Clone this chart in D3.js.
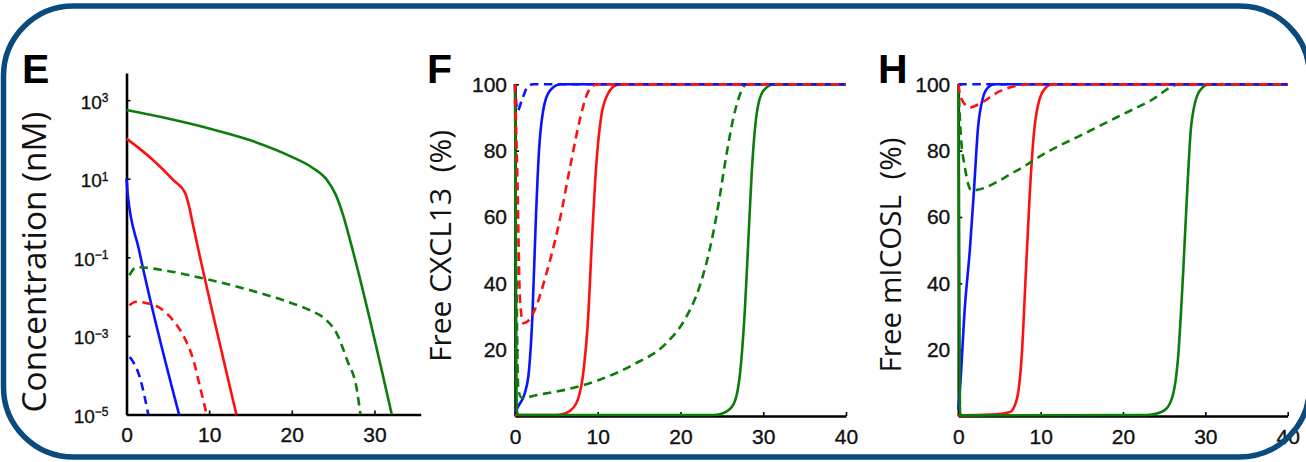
<!DOCTYPE html>
<html>
<head>
<meta charset="utf-8">
<script src="https://cdn.jsdelivr.net/npm/d3@7"></script>
<style>
  body { margin: 0; background: #fff; }
  svg { display: block; }
</style>
</head>
<body>
<div id="chart"></div>
<script>
// values, time in days

var timeTicks = [0, 10, 20, 30, 40];
var concTicks = [1e3, 1e1, 1e-1, 1e-3, 1e-5];
var pctTicks = [20, 40, 60, 80, 100];

// panel E: concentration (nM)
var eBlueSolid = [[0, 10], [0.15, 4], [1.5, 0.16], [6.36, 1e-5]];
var eBlueDashed = [[0.4, 2.9e-4], [1.6, 9e-5], [2.64, 1e-5]];
var eRedSolid = [[0, 105], [1.5, 60], [3.2, 30], [5.7, 9.1], [7.1, 4.3], [7.5, 2.3], [8.1, 0.59],
  [13.3, 1e-5]];
var eRedDashed = [[0.35, 0.006], [1.15, 0.0074], [2.5, 0.0068], [3.6, 0.0058], [5.7, 0.0024],
  [6.9, 0.001], [8.1, 2.4e-4], [8.9, 5e-5], [9.7, 1e-5]];
var eGreenSolid = [[0, 560], [5, 340], [10, 190], [15, 95], [20, 36], [22.5, 19], [24.3, 9],
  [25.3, 4], [26.2, 1.2], [27, 0.3], [32.1, 1e-5]];
var eGreenDashed = [[0.35, 0.035], [1.2, 0.056], [5, 0.045], [9.3, 0.029], [15, 0.0145], [20, 0.0068],
  [22.2, 0.0045], [24.2, 0.0025], [25.4, 0.0012], [26.7, 2.4e-4], [27.9, 4e-5], [28.3, 1e-5]];

// panel F: free CXCL13 (%)
var fBlueSolid = [[0, 1], [0.4, 3], [1.2, 7], [1.7, 14], [2.1, 30], [2.5, 58], [2.9, 80], [3.4, 92],
  [4.2, 98], [5.5, 100], [40, 100]];
var fBlueDashed = [[0, 100], [0.3, 92], [0.8, 95], [1.6, 99.5], [2.2, 100], [40, 100]];
var fRedSolid = [[0, 0.3], [5, 0.3], [6.6, 1.5], [7.6, 5], [8.3, 14], [8.8, 28], [9.3, 53], [9.8, 75],
  [10.4, 90], [11.2, 97], [12.3, 99.8], [13, 100], [40, 100]];
var fRedDashed = [[0, 100], [0.3, 70], [0.6, 35], [1.0, 28], [1.5, 28.5], [2.2, 31], [3.8, 43], [5.4, 59],
  [6.65, 75], [7.9, 90], [8.7, 97], [9.4, 99.5], [10, 100], [40, 100]];
var fGreenSolid = [[0, 100], [0.1, 50], [0.2, 2], [0.4, 0.3], [24, 0.3], [25.3, 1], [26.4, 3.5], [27.2, 13],
  [27.8, 33], [28.2, 53], [28.6, 73], [29.2, 91], [30, 98], [31.3, 100], [40, 100]];
var fGreenDashed = [[0, 100], [0.15, 50], [0.4, 8], [0.8, 5.5], [3, 6.5], [6.25, 8], [10.3, 11], [14.3, 15.5],
  [18.3, 22], [20.5, 29], [22.3, 39], [23.6, 51], [24.6, 64], [25.5, 78], [26.4, 90], [27.2, 97], [28, 100],
  [40, 100]];

// panel H: free mICOSL (%)
var hBlueSolid = [[0, 2], [0.2, 8], [0.8, 33], [1.4, 50], [1.9, 68], [2.4, 87], [3.0, 96], [3.6, 99],
  [4.4, 100], [40, 100]];
var hBlueDashed = [[0, 100], [40, 100]];
var hRedSolid = [[0, 0.2], [4, 0.4], [6.3, 1.2], [7.1, 5], [7.7, 18], [8.2, 43], [8.7, 68], [9.3, 88],
  [10.3, 98], [11.4, 100], [40, 100]];
var hRedDashed = [[0, 100], [0.3, 96], [1.4, 93], [2.5, 94], [5.1, 98], [7, 99.5], [8.7, 100], [40, 100]];
var hGreenSolid = [[0, 100], [0.1, 50], [0.2, 1], [0.4, 0.2], [23, 0.3], [24.9, 1.5], [25.9, 5], [26.7, 18],
  [27.3, 43], [27.8, 68], [28.3, 88], [29.3, 98], [30.5, 100], [40, 100]];
var hGreenDashed = [[0, 100], [0.3, 85], [0.8, 75], [1.6, 68], [7.1, 74], [11.1, 80], [15.2, 85], [19.2, 90],
  [23.3, 95], [26.9, 100], [40, 100]];

var blue = "#0a14ff", red = "#ff1010", green = "#0a7d0a";

var svgWidth = 1306;
var svgHeight = 462;

var svg = d3.select("#chart")
  .append("svg")
  .attr("width", svgWidth)
  .attr("height", svgHeight);

var tickFont = "'Liberation Sans', Arial, sans-serif";

// panel layout
var panels = [
  { letter: "E", letterX: 22, label: "Concentration (nM)", labelX: 46, labelY: 262, labelLen: 301,
    left: 126.5, right: 420.7, top: 73, bottom: 414.5, xMax: 35.6, xTicks: timeTicks.slice(0, 4), log: true,
    series: [[eBlueSolid, blue, false], [eRedSolid, red, false], [eGreenSolid, green, false],
             [eGreenDashed, green, true], [eBlueDashed, blue, true], [eRedDashed, red, true]] },
  { letter: "F", letterX: 427, label: "Free CXCL13  (%)", labelX: 451, labelY: 246, labelLen: 232,
    left: 515, right: 846, top: 84.3, bottom: 416, xMax: 40, xTicks: timeTicks, log: false,
    series: [[fBlueSolid, blue, false], [fRedSolid, red, false], [fGreenSolid, green, false],
             [fGreenDashed, green, true], [fBlueDashed, blue, true], [fRedDashed, red, true]] },
  { letter: "H", letterX: 878, label: "Free mICOSL  (%)", labelX: 901, labelY: 255, labelLen: 235,
    left: 958.3, right: 1287.7, top: 84.3, bottom: 416, xMax: 40, xTicks: timeTicks, log: false,
    series: [[hBlueSolid, blue, false], [hRedSolid, red, false], [hGreenSolid, green, false],
             [hGreenDashed, green, true], [hBlueDashed, blue, true], [hRedDashed, red, true]] }
];

panels.forEach(function(p) {
  var g = svg.append("g");

  var xScale = d3.scaleLinear()
    .domain([0, p.xMax])
    .range([p.left, p.right]);

  var yScale = p.log
    ? d3.scaleLog().domain([1e-5, 4900]).range([p.bottom, p.top])
    : d3.scaleLinear().domain([0, 100]).range([p.bottom, p.top]);

  // axes
  var bottomAxis = d3.axisBottom(xScale)
    .tickValues(p.xTicks)
    .tickSizeInner(-4)
    .tickSizeOuter(0)
    .tickPadding(13)
    .tickFormat(d3.format("d"));

  var leftAxis = d3.axisLeft(yScale)
    .tickValues(p.log ? concTicks : pctTicks)
    .tickSizeInner(-4)
    .tickSizeOuter(0)
    .tickPadding(p.log ? 18 : 8);

  var xg = g.append("g")
    .attr("transform", `translate(0, ${p.bottom})`)
    .call(bottomAxis);

  var yg = g.append("g")
    .attr("transform", `translate(${p.left}, 0)`)
    .call(leftAxis);

  [xg, yg].forEach(function(a) {
    a.attr("font-family", tickFont).attr("font-size", 21);
    a.select(".domain").attr("stroke-width", 2.6);
    a.selectAll(".tick line").attr("stroke-width", 1.6);
    a.selectAll(".tick text")
      .attr("fill", "#111")
      .attr("stroke", "#111")
      .attr("stroke-width", 0.35);
  });

  if (p.log) {
    // 10 with superscript exponent
    yg.selectAll(".tick text")
      .attr("dy", "0.42em")
      .attr("font-size", 19)
      .text(null)
      .each(function(d) {
        var e = Math.round(Math.log10(d));
        var t = d3.select(this);
        t.append("tspan").text("10");
        t.append("tspan")
          .attr("dy", "-0.55em")
          .attr("font-size", 12)
          .text(e < 0 ? "\u2212" + Math.abs(e) : String(e));
      });
  }

  // curves
  var line = d3.line()
    .x(d => xScale(d[0]))
    .y(d => yScale(d[1]))
    .curve(d3.curveMonotoneX);

  p.series.forEach(function(s) {
    g.append("path")
      .datum(s[0])
      .attr("d", line)
      .attr("fill", "none")
      .attr("stroke", s[1])
      .attr("stroke-width", 2.6)
      .attr("stroke-dasharray", s[2] ? "8.5,5.5" : null);
  });

  // panel letter
  g.append("text")
    .attr("x", p.letterX)
    .attr("y", 83)
    .attr("font-family", tickFont)
    .attr("font-weight", "bold")
    .attr("font-size", 41)
    .text(p.letter);

  // axis title, fitted to the length seen in the figure
  var title = g.append("text")
    .attr("transform", `translate(${p.labelX}, ${p.labelY}) rotate(-90)`)
    .attr("text-anchor", "middle")
    .attr("font-family", "'Open Sans', sans-serif")
    .attr("font-size", 30)
    .attr("fill", "#111")
    .style("white-space", "pre")
    .text(p.label);
  var len = title.node().getComputedTextLength();
  title.attr("font-size", 30 * p.labelLen / len);
});

// rounded frame
svg.append("rect")
  .attr("x", 3.5)
  .attr("y", 6)
  .attr("width", 1306)
  .attr("height", 451)
  .attr("rx", 70)
  .attr("fill", "none")
  .attr("stroke", "#0b4a7c")
  .attr("stroke-width", 5.5);
</script>
</body>
</html>
